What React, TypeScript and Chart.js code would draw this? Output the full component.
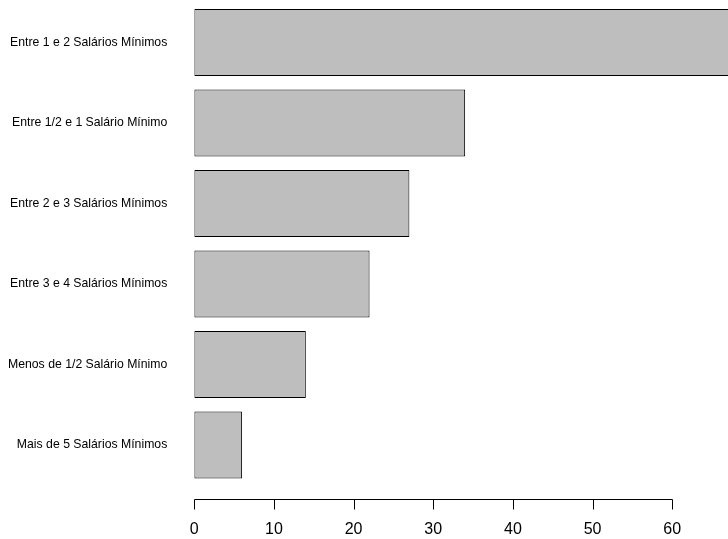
import React, { useEffect, useRef } from "react";
import { Chart, registerables } from "chart.js";

Chart.register(...registerables);

const categories = [
  "Entre 1 e 2 Salários Mínimos",
  "Entre 1/2 e 1 Salário Mínimo",
  "Entre 2 e 3 Salários Mínimos",
  "Entre 3 e 4 Salários Mínimos",
  "Menos de 1/2 Salário Mínimo",
  "Mais de 5 Salários Mínimos",
];
const values = [70, 34, 27, 22, 14, 6];
const xTickValues = [0, 10, 20, 30, 40, 50, 60];

const FONT = "'Liberation Sans', Arial, Helvetica, sans-serif";

const rAxisPlugin = {
  id: "rAxis",
  afterDraw(chart: any) {
    const ctx = chart.ctx;
    const xs = chart.scales.x;
    const y = Math.round(chart.chartArea.bottom + 13.5) + 0.5;
    const x0 = Math.round(xs.getPixelForValue(xTickValues[0])) + 0.5;
    const x1 = Math.round(xs.getPixelForValue(xTickValues[xTickValues.length - 1])) + 0.5;
    ctx.save();
    ctx.strokeStyle = "#000";
    ctx.lineWidth = 1;
    ctx.beginPath();
    ctx.moveTo(x0, y);
    ctx.lineTo(x1, y);
    for (const v of xTickValues) {
      const px = Math.round(xs.getPixelForValue(v)) + 0.5;
      ctx.moveTo(px, y);
      ctx.lineTo(px, y + 10);
    }
    ctx.stroke();
    ctx.fillStyle = "#000";
    ctx.font = `16px ${FONT}`;
    ctx.textAlign = "center";
    ctx.textBaseline = "middle";
    for (const v of xTickValues) {
      const px = xs.getPixelForValue(v);
      ctx.fillText(String(v), px, y + 30.5);
    }
    ctx.restore();
  },
};

export default function App() {
  const ref = useRef<HTMLCanvasElement>(null);
  useEffect(() => {
    document.body.style.margin = "0";
    const chart = new Chart(ref.current!, {
      type: "bar",
      data: {
        labels: categories,
        datasets: [
          {
            data: values,
            backgroundColor: "#bebebe",
            borderColor: "#000",
            borderWidth: 1,
            borderSkipped: false,
            categoryPercentage: 1,
            barPercentage: 0.833,
          },
        ],
      },
      options: {
        indexAxis: "y",
        responsive: false,
        animation: false,
        layout: { autoPadding: false, padding: { top: 2.25, bottom: 53.75, left: 0, right: 0 } },
        plugins: { legend: { display: false }, tooltip: { enabled: false } },
        scales: {
          x: { display: false, min: 0, max: 67 },
          y: {
            grid: { display: false, drawTicks: false },
            border: { display: false },
            ticks: {
              color: "#000",
              padding: 27,
              font: { family: FONT, size: 12.25 },
            },
            afterFit(scale: any) {
              scale.width = 194.3;
              scale.paddingTop = 0;
              scale.paddingBottom = 0;
            },
          },
        },
      },
      plugins: [rAxisPlugin],
    } as any);
    return () => chart.destroy();
  }, []);
  return (
    <canvas ref={ref} width={728} height={539} style={{ display: "block", width: 728, height: 539 }} />
  );
}
